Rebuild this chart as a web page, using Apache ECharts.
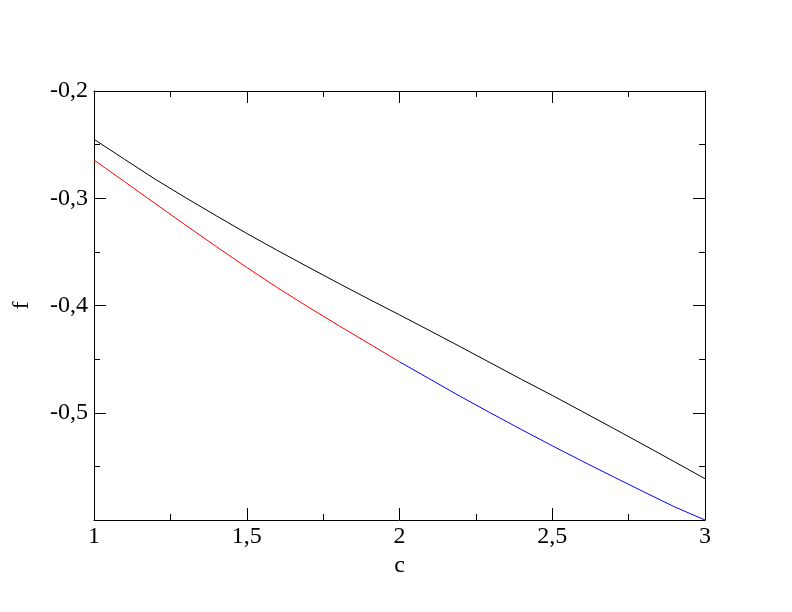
<!DOCTYPE html>
<html>
<head>
<meta charset="utf-8">
<script src="https://cdn.jsdelivr.net/npm/echarts@6/dist/echarts.min.js"></script>
<style>
    html, body {margin:0; padding:0; background:#fff;}
    #main {width:792px; height:612px;}
</style>
</head>
<body>
<div id="main"></div>
<script>
// values
var cAll = [1.0,1.1,1.2,1.3,1.4,1.5,1.6,1.7,1.8,1.9,2.0,2.1,2.2,2.3,2.4,2.5,2.6,2.7,2.8,2.9,3.0];
var fBlack = [-0.2450,-0.2637,-0.2822,-0.2995,-0.3163,-0.3328,-0.3486,-0.3640,-0.3792,-0.3941,-0.4087,
    -0.4236,-0.4386,-0.4538,-0.4690,-0.4838,-0.4991,-0.5145,-0.5300,-0.5457,-0.5615];

var cRed = [1.0,1.1,1.2,1.3,1.4,1.5,1.6,1.7,1.8,1.9,2.0];
var fRed = [-0.2643,-0.2846,-0.3049,-0.3251,-0.3450,-0.3645,-0.3833,-0.4012,-0.4185,-0.4355,-0.4525];

var cBlue = [2.0,2.1,2.2,2.3,2.4,2.5,2.6,2.7,2.8,2.9,3.0];
var fBlue = [-0.4525,-0.4687,-0.4849,-0.5005,-0.5158,-0.5308,-0.5454,-0.5597,-0.5738,-0.5877,-0.6000];

var xTicks = [1, 1.5, 2, 2.5, 3];
var yTicks = [-0.2, -0.3, -0.4, -0.5];

function pairs(xs, ys) {
    var out = [];
    for (var i = 0; i < xs.length; i++) out.push([xs[i], ys[i]]);
    return out;
}

function commaLabel(v) {
    var r = Math.round(v * 10) / 10;
    return String(r).replace('.', ',');
}

var font = "'Liberation Serif', 'DejaVu Serif', serif";
var axisLine = {show:true, lineStyle:{color:'#000', width:1}};
var tickIn = {show:true, inside:true, length:12, lineStyle:{color:'#000', width:1}};
var minorIn = {show:true, splitNumber:2, length:6, lineStyle:{color:'#000', width:1}};

var myChart = echarts.init(document.getElementById('main'), null, {renderer:'canvas'});

var option = {
    backgroundColor:'#fff',
    animation:false,
    grid:{left:94, right:87, top:91, bottom:92},
    xAxis:[
        {
            type:'value', min:1, max:3, interval:0.5, position:'bottom',
            name:'c', nameLocation:'middle', nameGap:27,
            nameTextStyle:{color:'#000', fontSize:24, fontFamily:font},
            axisLine:axisLine, axisTick:tickIn, minorTick:minorIn,
            splitLine:{show:false},
            axisLabel:{
                color:'#000', fontSize:24, fontFamily:font, margin:5,
                formatter:function (v) {
                    for (var i = 0; i < xTicks.length; i++) {
                        if (Math.abs(xTicks[i] - v) < 1e-6) return commaLabel(v);
                    }
                    return '';
                }
            }
        },
        {
            type:'value', min:1, max:3, interval:0.5, position:'top',
            axisLine:axisLine, axisTick:tickIn, minorTick:minorIn,
            splitLine:{show:false}, axisLabel:{show:false}
        }
    ],
    yAxis:[
        {
            type:'value', min:-0.6, max:-0.2, interval:0.1, position:'left',
            name:'f', nameLocation:'middle', nameGap:60,
            nameTextStyle:{color:'#000', fontSize:24, fontFamily:font},
            axisLine:axisLine, axisTick:tickIn, minorTick:minorIn,
            splitLine:{show:false},
            axisLabel:{
                color:'#000', fontSize:24, fontFamily:font, margin:6,
                formatter:function (v) {
                    for (var i = 0; i < yTicks.length; i++) {
                        if (Math.abs(yTicks[i] - v) < 1e-6) return commaLabel(v);
                    }
                    return '';
                }
            }
        },
        {
            type:'value', min:-0.6, max:-0.2, interval:0.1, position:'right',
            axisLine:axisLine, axisTick:tickIn, minorTick:minorIn,
            splitLine:{show:false}, axisLabel:{show:false}
        }
    ],
    series:[
        {
            name:'black', type:'line', data:pairs(cAll, fBlack), showSymbol:false,
            lineStyle:{color:'#000', width:1}, itemStyle:{color:'#000'}
        },
        {
            name:'red', type:'line', data:pairs(cRed, fRed), showSymbol:false,
            lineStyle:{color:'#ff0000', width:1}, itemStyle:{color:'#ff0000'}
        },
        {
            name:'blue', type:'line', data:pairs(cBlue, fBlue), showSymbol:false,
            lineStyle:{color:'#0000ff', width:1}, itemStyle:{color:'#0000ff'}
        }
    ]
};

myChart.setOption(option);
</script>
</body>
</html>
